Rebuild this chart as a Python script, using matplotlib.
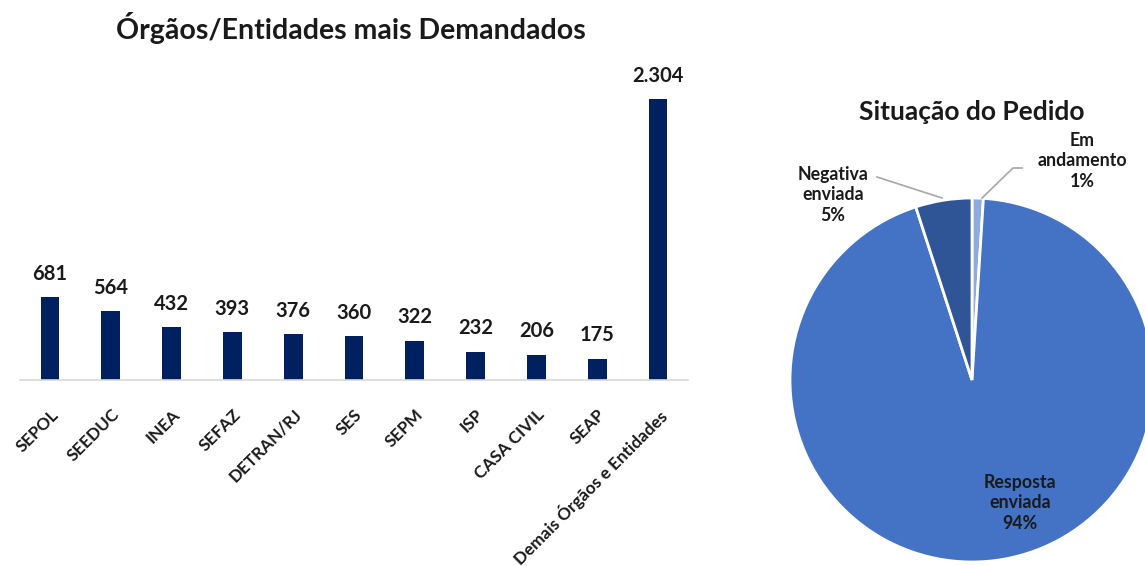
"""Órgãos/Entidades mais demandados + situação do pedido."""

import matplotlib.pyplot as plt

plt.rcParams["font.family"] = ["Lato", "DejaVu Sans"]

orgaos = ["SEPOL", "SEEDUC", "INEA", "SEFAZ", "DETRAN/RJ", "SES", "SEPM",
          "ISP", "CASA CIVIL", "SEAP", "Demais Órgãos e Entidades"]
pedidos = [681, 564, 432, 393, 376, 360, 322, 232, 206, 175, 2304]

situacao = ["Em\nandamento", "Resposta\nenviada", "Negativa\nenviada"]
situacao_pct = [1, 94, 5]
situacao_cores = ["#8FAADC", "#4472C4", "#2F5597"]

W, H = 1145, 566


def fmt(v):
    return f"{v:,}".replace(",", ".")


fig = plt.figure(figsize=(W / 100, H / 100), dpi=100)

# bar chart
ax = fig.add_axes([19.6 / W, (H - 380) / H, 668.8 / W, 317 / H])
x = range(len(orgaos))
ax.bar(x, pedidos, width=0.31, color="#002060", zorder=2)
for xi, v in zip(x, pedidos):
    ax.text(xi, v + 110, fmt(v), ha="center", va="bottom",
            fontsize=14.5, fontweight="bold", color="#1a1a1a")
ax.set_xlim(-0.5, len(orgaos) - 0.5)
ax.set_ylim(0, 2600)
ax.set_xticks(list(x))
ax.set_xticklabels(orgaos, rotation=45, ha="right", rotation_mode="anchor",
                   fontsize=12.3, fontweight="bold", color="#1a1a1a")
ax.tick_params(axis="x", length=0, pad=19)
ax.set_yticks([])
for s in ["top", "right", "left"]:
    ax.spines[s].set_visible(False)
ax.spines["bottom"].set_color("#D9D9D9")
ax.spines["bottom"].set_linewidth(1.2)
fig.text(351 / W, 1 - 28 / H, "Órgãos/Entidades mais Demandados",
         ha="center", va="center", fontsize=20.5, fontweight="bold",
         color="#1a1a1a")

# pie chart
R = 182
pax = fig.add_axes([(972 - R) / W, (H - 380 - R) / H, 2 * R / W, 2 * R / H])
pax.pie(situacao_pct, colors=situacao_cores, startangle=90, counterclock=False,
        radius=1, wedgeprops=dict(edgecolor="white", linewidth=2))
pax.set_xlim(-1, 1)
pax.set_ylim(-1, 1)
pax.set_aspect("equal")
pax.axis("off")


def px(xp, yp):
    return (xp - 972) / R, (380 - yp) / R


lbl = dict(ha="center", va="center", fontsize=12.8, fontweight="bold",
           color="#1a1a1a", linespacing=1.25, clip_on=False)
pax.text(*px(1020, 503), f"{situacao[1]}\n{situacao_pct[1]}%", **lbl)
pax.text(*px(833, 195), f"{situacao[2]}\n{situacao_pct[2]}%", **lbl)
pax.text(*px(1082, 161), f"{situacao[0]}\n{situacao_pct[0]}%", **lbl)

lc = dict(color="#A6A6A6", linewidth=1.2, clip_on=False)
a, b = px(877, 177), px(942, 198)
pax.plot([a[0], b[0]], [a[1], b[1]], **lc)
a, b, c = px(1022, 168), px(1013, 168), px(982, 198)
pax.plot([a[0], b[0], c[0]], [a[1], b[1], c[1]], **lc)

fig.text(972 / W, 1 - 112 / H, "Situação do Pedido", ha="center", va="center",
         fontsize=19, fontweight="bold", color="#1a1a1a")

fig.savefig("out.png", dpi=100)
